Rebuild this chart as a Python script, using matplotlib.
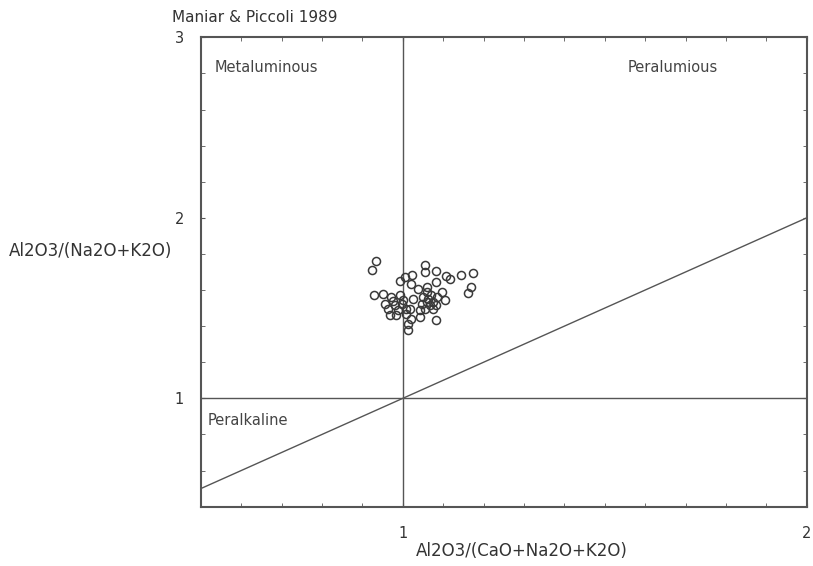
import matplotlib
matplotlib.use("Agg")
import matplotlib.pyplot as plt
from matplotlib.ticker import MultipleLocator, FixedLocator

# Data: A/CNK (x) and A/NK (y)
acnk = [0.933, 0.925, 1.054, 1.054, 1.083, 1.143, 1.175, 1.108, 1.116, 1.024,
        1.005, 0.993, 1.021, 1.082, 1.170, 1.161, 1.038, 1.059, 1.096, 1.104,
        0.928, 0.951, 0.972, 0.993, 1.025, 0.956, 0.964, 0.980, 0.997, 0.988,
        1.017, 1.050, 1.059, 1.067, 1.075, 1.054, 1.042, 1.075, 1.083, 0.968,
        0.984, 1.009, 1.021, 1.042, 1.013, 1.013, 1.083, 1.009, 1.059, 1.001,
        1.062, 1.069, 1.047, 1.084, 0.975]
ank = [1.759, 1.713, 1.736, 1.700, 1.706, 1.685, 1.692, 1.676, 1.659, 1.681,
       1.672, 1.648, 1.635, 1.645, 1.617, 1.586, 1.608, 1.617, 1.589, 1.547,
       1.571, 1.580, 1.562, 1.571, 1.549, 1.525, 1.497, 1.515, 1.525, 1.488,
       1.497, 1.562, 1.534, 1.515, 1.534, 1.497, 1.488, 1.497, 1.515, 1.460,
       1.460, 1.470, 1.442, 1.451, 1.414, 1.377, 1.433, 1.497, 1.589, 1.543,
       1.552, 1.575, 1.525, 1.563, 1.541]

# Boundary lines
div_x = [1, 1]
div_y = [0.4, 3]
diag_x = [0.5, 2]
diag_y = [0.5, 2]
hline_y = 1

x_ticks = [1, 2]
x_ticklabels = ["1", "2"]
y_ticks = [1, 2, 3]
y_ticklabels = ["1", "2", "3"]

title = "Maniar & Piccoli 1989"
xlabel = "Al2O3/(CaO+Na2O+K2O)"
ylabel = "Al2O3/(Na2O+K2O)"
fields = [("Metaluminous", 0.535, 2.83), ("Peralumious", 1.556, 2.83), ("Peralkaline", 0.516, 0.878)]

plt.rcParams['font.family'] = ['DejaVu Sans']
fig = plt.figure(figsize=(8.13, 5.66), dpi=100)
ax = fig.add_axes([0.2469, 0.1048, 0.7454, 0.8293])
ax.set_xlim(0.5, 2)
ax.set_ylim(0.4, 3)

lc = "#555555"
ax.plot(div_x, div_y, color=lc, lw=1.0)
ax.axhline(hline_y, color=lc, lw=1.0)
ax.plot(diag_x, diag_y, color=lc, lw=1.0)

ax.plot(acnk, ank, linestyle="none", marker="o", markersize=5.8,
        markerfacecolor="none", markeredgecolor="#3a3a3a", markeredgewidth=1.1)

for name, tx, ty in fields:
    ax.text(tx, ty, name, fontsize=10.5, color="#444444", ha="left", va="center")

for s in ax.spines.values():
    s.set_color("#555555")
    s.set_linewidth(1.5)

ax.xaxis.set_major_locator(FixedLocator(x_ticks))
ax.set_xticklabels(x_ticklabels)
ax.yaxis.set_major_locator(FixedLocator(y_ticks))
ax.set_yticklabels(y_ticklabels)
ax.xaxis.set_minor_locator(MultipleLocator(0.1))
ax.yaxis.set_minor_locator(MultipleLocator(0.2))
ax.tick_params(which="both", direction="in", top=True, right=True, color="#555555")
ax.tick_params(which="major", length=3, labelsize=10.5, labelcolor="#333333")
ax.tick_params(axis="x", which="major", pad=14)
ax.tick_params(axis="y", which="major", pad=12)
ax.tick_params(which="minor", length=3)

fig.text(172/813, 1 - 17/566, title, fontsize=11, color="#333333", ha="left", va="center")
fig.text(522/813, 1 - 551/566, xlabel, fontsize=12, color="#333333", ha="center", va="center")
fig.text(91/813, 1 - 251/566, ylabel, fontsize=12, color="#333333", ha="center", va="center")

fig.savefig("out.png", dpi=100)
